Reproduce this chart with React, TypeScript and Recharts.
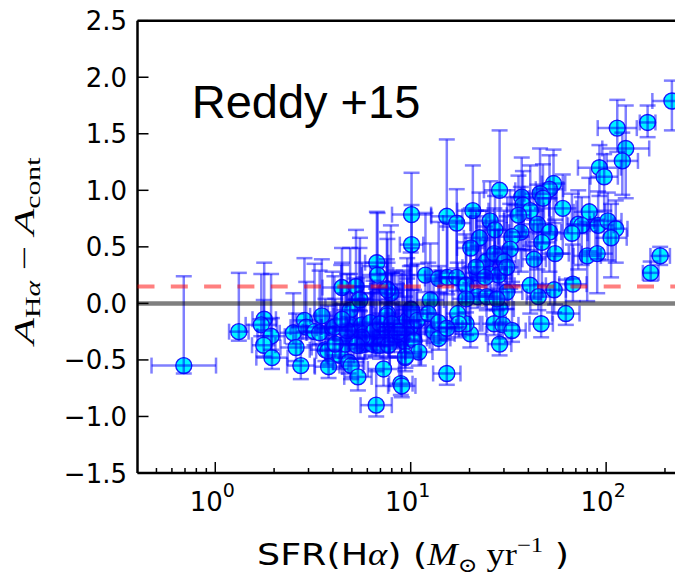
import React from 'react';
import { ScatterChart, Scatter, XAxis, YAxis, ErrorBar, ReferenceLine } from 'recharts';

// SFR(Hα) in Msun/yr
const sfrValues = [
  0.69, 1.32, 1.78, 1.72, 1.93, 1.77, 1.95, 2.51, 2.59, 2.74,
  2.86, 2.92, 3.22, 3.42, 3.51, 3.66, 3.77, 3.80, 3.98, 4.36,
  4.45, 4.41, 4.81, 4.96, 4.90, 5.25, 5.47, 5.37, 6.71, 6.77,
  7.55, 7.92, 7.61, 6.66, 7.26, 8.9, 9.0, 9.37, 10.0, 4.9,
  5.2, 5.63, 6.21, 6.71, 5.85, 6.64, 7.41, 8.01, 8.33, 9.0,
  9.6, 9.37, 4.62, 6.26, 5.74, 9.9, 4.07, 4.72, 6.45, 5.52,
  6.33, 7.7, 7.55, 8.5, 9.2, 9.6, 7.55, 5.5, 7.6,
  217, 163, 114, 126, 121, 92.4, 97.7, 28.5, 10.1, 15.3,
  17.2, 20.8, 10.1, 25.5, 27.0, 22.5, 20.3, 53.8, 51.3, 45.9,
  47.5, 37.0, 37.5, 40.9, 35.6, 60.0, 82.0, 72.0, 75.0, 91.0,
  102, 112, 106, 44.5, 51.3, 66.8, 46.9, 36.6, 33.0, 32.3,
  54.8, 42.8, 80, 90, 189, 169, 67.6, 54.2, 40.9, 45.0,
  62.2, 46.5, 31.0, 28.7, 26.7, 29.6, 33.0, 28.5, 20.2, 19.2,
  17.4, 15.3, 11.9, 13.9, 15.4, 17.2, 19.2, 21.8, 24.3, 26.8,
  30.1, 21.6, 25.3, 28.1, 31.0, 12.6, 22.0, 24.5, 27.6, 19.2,
  10.1, 10.8, 12.3, 14.2, 13.1, 17.6, 9.6, 10.4, 13.9, 11.0,
  9.4, 24.0, 13.9, 15.3, 4.11, 4.45, 5.63, 6.97, 8.0, 8.67,
  6.97, 7.7, 5.3,
];

// A(Hα) − A(cont)
const aDiffValues = [
  -0.55, -0.25, -0.14, -0.19, -0.29, -0.37, -0.48, -0.26, -0.39, -0.55,
  -0.15, -0.21, -0.25, -0.26, -0.11, -0.41, -0.42, -0.56, -0.22, -0.46,
  0.14, -0.21, -0.52, -0.55, -0.06, 0.15, 0.04, -0.65, 0.36, 0.25,
  0.13, 0.09, -0.09, -0.90, -0.58, -0.71, -0.73, -0.48, -0.05, -0.19,
  -0.28, -0.19, -0.17, -0.28, -0.36, -0.37, -0.31, -0.28, -0.21, -0.18,
  -0.25, -0.34, -0.36, -0.31, -0.27, -0.22, -0.21, -0.24, -0.25, -0.37,
  -0.36, -0.36, -0.24, -0.28, -0.21, -0.15, -0.11, 0.03, 0.12,
  1.79, 1.60, 1.55, 1.37, 1.26, 1.20, 1.12, 1.00, 0.785, 0.77,
  0.71, 0.82, 0.52, 0.73, 0.65, 0.58, 0.49, 1.06, 1.01, 0.97,
  0.93, 0.94, 0.87, 0.82, 0.78, 0.84, 0.81, 0.70, 0.69, 0.69,
  0.73, 0.66, 0.58, 0.70, 0.63, 0.62, 0.54, 0.63, 0.59, 0.48,
  0.44, 0.39, 0.42, 0.44, 0.42, 0.27, 0.17, 0.12, 0.16, 0.06,
  -0.09, -0.18, 0.10, -0.05, -0.18, -0.19, -0.24, -0.36, -0.27, -0.18,
  -0.09, -0.62, 0.25, 0.22, 0.23, 0.23, 0.16, 0.27, 0.37, 0.44,
  0.37, 0.32, 0.26, 0.25, 0.32, 0.03, 0.06, 0.06, 0.04, 0.04,
  -0.06, -0.15, -0.09, -0.21, -0.25, -0.18, -0.28, -0.33, -0.31, -0.43,
  -0.47, 0.23, -0.17, -0.22, -0.36, -0.14, -0.30, -0.18, -0.18, -0.25,
  -0.37, -0.37, -0.37,
];

// SFR uncertainty (dex, symmetric in log)
const sfrErrDex = [
  0.165, 0.05, 0.06, 0.08, 0.07, 0.06, 0.08, 0.07, 0.08, 0.07,
  0.06, 0.08, 0.06, 0.07, 0.06, 0.08, 0.06, 0.07, 0.08, 0.07,
  0.10, 0.06, 0.08, 0.06, 0.07, 0.08, 0.06, 0.07, 0.06, 0.08,
  0.07, 0.06, 0.08, 0.08, 0.08, 0.06, 0.07, 0.08, 0.06, 0.07,
  0.06, 0.08, 0.07, 0.06, 0.08, 0.07, 0.06, 0.07, 0.08, 0.06,
  0.07, 0.08, 0.06, 0.07, 0.06, 0.08, 0.07, 0.06, 0.08, 0.07,
  0.06, 0.08, 0.07, 0.06, 0.08, 0.07, 0.06, 0.07, 0.08,
  0.10, 0.04, 0.10, 0.12, 0.08, 0.11, 0.07, 0.08, 0.10, 0.08,
  0.07, 0.08, 0.06, 0.07, 0.06, 0.08, 0.07, 0.06, 0.07, 0.08,
  0.07, 0.06, 0.08, 0.07, 0.06, 0.07, 0.08, 0.06, 0.07, 0.08,
  0.07, 0.06, 0.08, 0.07, 0.06, 0.08, 0.07, 0.06, 0.07, 0.08,
  0.07, 0.06, 0.07, 0.08, 0.05, 0.04, 0.07, 0.06, 0.08, 0.06,
  0.07, 0.06, 0.08, 0.07, 0.06, 0.08, 0.07, 0.06, 0.08, 0.07,
  0.06, 0.07, 0.08, 0.07, 0.06, 0.08, 0.07, 0.06, 0.08, 0.07,
  0.06, 0.07, 0.08, 0.07, 0.06, 0.07, 0.08, 0.07, 0.06, 0.07,
  0.08, 0.07, 0.06, 0.08, 0.07, 0.06, 0.07, 0.08, 0.06, 0.07,
  0.08, 0.07, 0.06, 0.08, 0.07, 0.06, 0.08, 0.07, 0.06, 0.08,
  0.07, 0.06, 0.08,
];

// lower / upper uncertainty on A(Hα) − A(cont)
const aErrLow = [
  0.07, 0.08, 0.10, 0.10, 0.12, 0.10, 0.10, 0.10, 0.12, 0.12,
  0.10, 0.10, 0.12, 0.10, 0.12, 0.10, 0.12, 0.10, 0.10, 0.12,
  0.15, 0.12, 0.10, 0.12, 0.12, 0.12, 0.10, 0.12, 0.10, 0.15,
  0.12, 0.10, 0.12, 0.10, 0.15, 0.10, 0.10, 0.12, 0.12, 0.10,
  0.12, 0.10, 0.12, 0.10, 0.12, 0.10, 0.12, 0.10, 0.12, 0.10,
  0.12, 0.10, 0.12, 0.10, 0.12, 0.10, 0.10, 0.12, 0.10, 0.12,
  0.10, 0.12, 0.10, 0.12, 0.10, 0.12, 0.10, 0.10, 0.12,
  0.26, 0.13, 0.21, 0.44, 0.30, 0.25, 0.30, 0.55, 0.45, 0.50,
  0.40, 0.35, 0.40, 0.35, 0.30, 0.35, 0.40, 0.35, 0.40, 0.35,
  0.40, 0.35, 0.40, 0.35, 0.30, 0.40, 0.35, 0.40, 0.35, 0.30,
  0.35, 0.30, 0.35, 0.40, 0.35, 0.40, 0.45, 0.35, 0.40, 0.35,
  0.45, 0.35, 0.40, 0.35, 0.08, 0.07, 0.15, 0.20, 0.25, 0.12,
  0.10, 0.12, 0.15, 0.12, 0.10, 0.12, 0.10, 0.10, 0.12, 0.10,
  0.12, 0.10, 0.15, 0.12, 0.15, 0.12, 0.15, 0.12, 0.15, 0.20,
  0.15, 0.12, 0.15, 0.12, 0.15, 0.12, 0.10, 0.12, 0.10, 0.12,
  0.10, 0.12, 0.10, 0.12, 0.10, 0.12, 0.10, 0.12, 0.10, 0.12,
  0.10, 0.15, 0.12, 0.10, 0.12, 0.10, 0.12, 0.10, 0.12, 0.10,
  0.12, 0.10, 0.12,
];

const aErrHigh = [
  0.79, 0.52, 0.50, 0.45, 0.55, 0.40, 0.35, 0.35, 0.30, 0.35,
  0.55, 0.40, 0.60, 0.55, 0.50, 0.45, 0.40, 0.35, 0.50, 0.45,
  0.35, 0.55, 0.40, 0.35, 0.55, 0.50, 0.45, 0.40, 0.45, 0.55,
  0.50, 0.60, 0.45, 0.30, 0.40, 0.35, 0.30, 0.45, 0.50, 0.45,
  0.50, 0.55, 0.50, 0.45, 0.40, 0.50, 0.45, 0.55, 0.50, 0.45,
  0.50, 0.40, 0.45, 0.40, 0.50, 0.55, 0.45, 0.50, 0.45, 0.40,
  0.45, 0.40, 0.50, 0.45, 0.50, 0.55, 0.50, 0.55, 0.45,
  0.18, 0.15, 0.25, 0.38, 0.25, 0.20, 0.20, 0.53, 0.37, 0.68,
  0.30, 0.40, 0.35, 0.35, 0.30, 0.40, 0.35, 0.30, 0.30, 0.40,
  0.30, 0.35, 0.30, 0.40, 0.35, 0.30, 0.30, 0.30, 0.25, 0.30,
  0.25, 0.25, 0.30, 0.35, 0.30, 0.35, 0.30, 0.40, 0.35, 0.40,
  0.30, 0.35, 0.30, 0.30, 0.08, 0.10, 0.35, 0.30, 0.35, 0.35,
  0.30, 0.35, 0.40, 0.35, 0.40, 0.35, 0.40, 0.35, 0.45, 0.40,
  0.45, 0.40, 0.55, 0.50, 0.45, 0.50, 0.45, 0.50, 0.45, 0.40,
  0.45, 0.50, 0.45, 0.40, 0.45, 0.50, 0.45, 0.50, 0.45, 0.50,
  0.55, 0.50, 0.45, 0.50, 0.45, 0.40, 0.50, 0.45, 0.40, 0.40,
  0.45, 0.45, 0.50, 0.45, 0.40, 0.50, 0.45, 0.50, 0.45, 0.50,
  0.40, 0.45, 0.40,
];

const xMajorTicks = [1, 10, 100];
const xMinorTicks = [
  0.5, 0.6, 0.7, 0.8, 0.9,
  2, 3, 4, 5, 6, 7, 8, 9,
  20, 30, 40, 50, 60, 70, 80, 90,
  200,
];
const yTicks = [-1.5, -1.0, -0.5, 0.0, 0.5, 1.0, 1.5, 2.0, 2.5];
const xDomain = [0.4, 275];
const yDomain = [-1.5, 2.5];
const zeroLevel = 0;
const offsetLevel = 0.15;
const titleText = 'Reddy +15';

const data = sfrValues.map((s, i) => {
  const f = Math.pow(10, sfrErrDex[i]);
  return {
    x: s,
    y: aDiffValues[i],
    xErr: [s - s / f, s * f - s],
    yErr: [aErrLow[i], aErrHigh[i]],
  };
});

const allXTicks = [...xMinorTicks, ...xMajorTicks].sort((a, b) => a - b);

const SANS = 'DejaVu Sans, sans-serif';
const SERIF = 'DejaVu Serif, serif';
const MATH = 'Liberation Serif, DejaVu Serif, serif';
const MAJOR = 11;
const MINOR = 5;

const isMajor = (v: number) => xMajorTicks.includes(v);

const BottomTick = (props: any) => {
  const { x, y, payload } = props;
  const v = payload.value;
  const major = isMajor(v);
  return (
    <g>
      <line x1={x} x2={x} y1={y} y2={y - (major ? MAJOR : MINOR)} stroke="#000" strokeWidth={1.5} />
      {major && (
        <text x={x - 3} y={y + 38} textAnchor="middle" fontFamily={SANS} fontSize={26} fill="#000">
          10
          <tspan dy={-14} fontSize={19}>{String(Math.round(Math.log10(v)))}</tspan>
        </text>
      )}
    </g>
  );
};

const TopTick = (props: any) => {
  const { x, y, payload } = props;
  const major = isMajor(payload.value);
  return <line x1={x} x2={x} y1={y} y2={y + (major ? MAJOR : MINOR)} stroke="#000" strokeWidth={1.5} />;
};

const LeftTick = (props: any) => {
  const { x, y, payload } = props;
  const label = Number(payload.value).toFixed(1).replace('-', '\u2212');
  return (
    <g>
      <line x1={x} x2={x + MAJOR} y1={y} y2={y} stroke="#000" strokeWidth={1.5} />
      <text x={x - 10.5} y={y + 9.5} textAnchor="end" fontFamily={SANS} fontSize={26} fill="#000">
        {label}
      </text>
    </g>
  );
};

const RightTick = (props: any) => {
  const { x, y } = props;
  return <line x1={x} x2={x - MAJOR} y1={y} y2={y} stroke="#000" strokeWidth={1.5} />;
};

const Marker = (props: any) => {
  const { cx, cy } = props;
  if (cx == null || cy == null) return <g />;
  return <circle cx={cx} cy={cy} r={8} fill="#00f4ff" stroke="#1a1aff" strokeWidth={1.4} />;
};

const NoShape = () => <g />;

const YLabel = () => (
  <text
    x={26}
    y={243}
    transform="rotate(-90 26 243)"
    textAnchor="middle"
    fontFamily={MATH}
    fontSize={29}
    fill="#000"
    textLength={187}
    lengthAdjust="spacingAndGlyphs"
  >
    <tspan fontStyle="italic">A</tspan>
    <tspan fontSize={20} dy={6}>H</tspan>
    <tspan fontSize={20} fontStyle="italic">{'\u03b1'}</tspan>
    <tspan dy={-6}>{' \u2212 '}</tspan>
    <tspan fontStyle="italic">A</tspan>
    <tspan fontSize={20} dy={6}>cont</tspan>
  </text>
);

const XLabel = () => (
  <text
    x={249}
    y={557}
    fontFamily={SANS}
    fontSize={31}
    fill="#000"
    textLength={312}
    lengthAdjust="spacingAndGlyphs"
  >
    SFR(H
    <tspan fontFamily={MATH} fontStyle="italic">{'\u03b1'}</tspan>
    ) (
    <tspan fontFamily={MATH} fontStyle="italic">M</tspan>
    <tspan fontFamily={SERIF} fontSize={20} dy={7}>{'\u2299'}</tspan>
    <tspan fontFamily={MATH} dy={-7}> yr</tspan>
    <tspan fontFamily={MATH} fontSize={21} dy={-13}>{'\u22121'}</tspan>
    <tspan dy={13}> )</tspan>
  </text>
);

const spine = { stroke: '#000', strokeWidth: 2.5 };

export default function App() {
  return (
    <div style={{ width: 675, height: 565, overflow: 'hidden', position: 'relative' }}>
      <ScatterChart width={688} height={565} margin={{ top: 0, right: 0, bottom: 0, left: 0 }}>
        <XAxis
          xAxisId="bottom"
          dataKey="x"
          type="number"
          scale="log"
          domain={xDomain}
          allowDataOverflow
          ticks={allXTicks}
          interval={0}
          tick={<BottomTick />}
          tickLine={false}
          tickSize={0}
          tickMargin={0}
          height={100}
          axisLine={spine}
          label={<XLabel />}
        />
        <XAxis
          xAxisId="top"
          orientation="top"
          type="number"
          scale="log"
          domain={xDomain}
          allowDataOverflow
          ticks={allXTicks}
          interval={0}
          tick={<TopTick />}
          tickLine={false}
          tickSize={0}
          tickMargin={0}
          height={12.7}
          axisLine={spine}
        />
        <YAxis
          yAxisId="left"
          dataKey="y"
          type="number"
          domain={yDomain}
          allowDataOverflow
          ticks={yTicks}
          interval={0}
          tick={<LeftTick />}
          tickLine={false}
          tickSize={0}
          tickMargin={0}
          width={129.5}
          axisLine={spine}
          label={<YLabel />}
        />
        <YAxis
          yAxisId="right"
          orientation="right"
          type="number"
          domain={yDomain}
          allowDataOverflow
          ticks={yTicks}
          interval={0}
          tick={<RightTick />}
          tickLine={false}
          tickSize={0}
          tickMargin={0}
          width={4}
          axisLine={spine}
        />
        <Scatter
          data={data}
          xAxisId="bottom"
          yAxisId="left"
          shape={<Marker />}
          isAnimationActive={false}
        />
        <Scatter
          data={data}
          xAxisId="bottom"
          yAxisId="left"
          shape={<NoShape />}
          isAnimationActive={false}
          zIndex={700}
        >
          <ErrorBar dataKey="xErr" direction="x" width={8} stroke="rgba(0,0,255,0.5)" strokeWidth={2.5} isAnimationActive={false} zIndex={700} />
          <ErrorBar dataKey="yErr" direction="y" width={8} stroke="rgba(0,0,255,0.5)" strokeWidth={2.5} isAnimationActive={false} zIndex={700} />
        </Scatter>
        <ReferenceLine
          xAxisId="bottom"
          yAxisId="left"
          y={offsetLevel}
          stroke="rgba(255,0,0,0.5)"
          strokeWidth={4}
          strokeDasharray="17 16.3"
          zIndex={800}
        />
        <ReferenceLine
          xAxisId="bottom"
          yAxisId="left"
          y={zeroLevel}
          stroke="rgba(0,0,0,0.5)"
          strokeWidth={4.5}
          zIndex={800}
        />
        <text x={183.7} y={110.3} fontFamily="Liberation Sans, Arial, sans-serif" fontSize={47} fill="#000">
          {titleText}
        </text>
      </ScatterChart>
    </div>
  );
}
